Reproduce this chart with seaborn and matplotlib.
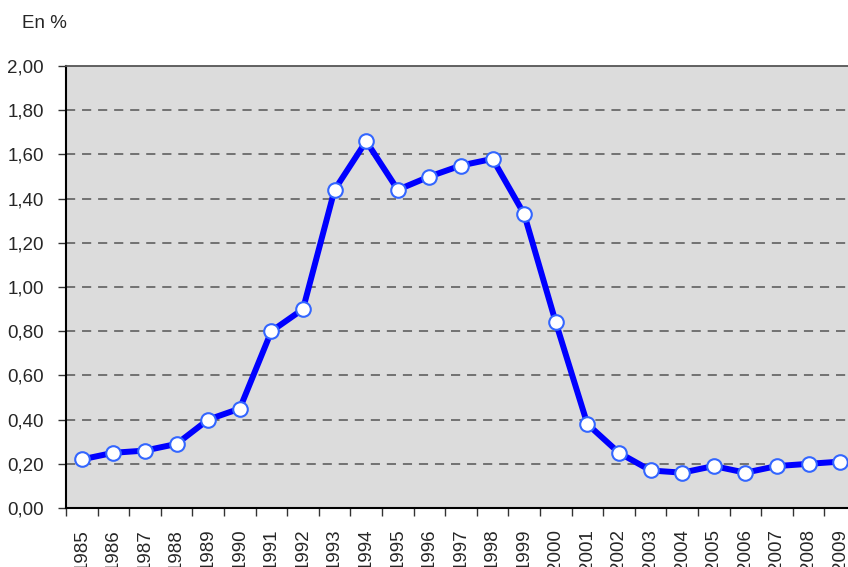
import numpy as np
import pandas as pd
import seaborn as sns
import matplotlib.pyplot as plt
from matplotlib.ticker import FixedLocator, FuncFormatter

# ---------------------- Data ------------------------
years = list(range(1985, 2010))
values = [0.22, 0.25, 0.26, 0.29, 0.40, 0.45, 0.80, 0.90, 1.44, 1.66,
          1.44, 1.50, 1.55, 1.58, 1.33, 0.84, 0.38, 0.25, 0.17, 0.16,
          0.19, 0.16, 0.19, 0.20, 0.21]
yticks = [0.0, 0.2, 0.4, 0.6, 0.8, 1.0, 1.2, 1.4, 1.6, 1.8, 2.0]

df = pd.DataFrame({"pos": np.arange(len(years)), "val": values})

# ---------------------- Style -----------------------
sns.set_style("white")
plt.rcParams["font.family"] = ["Liberation Sans", "DejaVu Sans"]

fig = plt.figure(figsize=(8.48, 5.67), dpi=100)
ax = fig.add_axes([0.0778, 0.104, 0.9316, 0.7795])
ax.set_facecolor("#DCDCDC")

sns.lineplot(data=df, x="pos", y="val", ax=ax, color="#0000FF", linewidth=4.3,
             marker="o", markersize=10.5, markerfacecolor="white",
             markeredgecolor="#3366FF", markeredgewidth=1.5)

ax.set_xlim(-0.5, len(years) - 0.5)
ax.set_ylim(0, 2.0)

# y axis
ax.set_yticks(yticks)
ax.yaxis.set_major_formatter(FuncFormatter(lambda v, p: f"{v:.2f}".replace(".", ",")))
ax.tick_params(axis="y", length=6, width=1, color="#333333", pad=10, labelsize=13.5, direction="out", left=True)
for y in yticks[1:-1]:
    ax.axhline(y, color="#555555", linewidth=1.1, linestyle=(0, (6, 4.5)), zorder=0.5)

# x axis: labels at centers, ticks at boundaries
ax.set_xticks(df["pos"])
ax.set_xticklabels([str(y) for y in years], rotation=90)
ax.tick_params(axis="x", which="major", length=0, pad=15, labelsize=13.5)
ax.xaxis.set_minor_locator(FixedLocator(np.arange(len(years) + 1) - 0.5))
ax.tick_params(axis="x", which="minor", length=6, width=1, color="#333333", direction="out", bottom=True)

ax.set_xlabel("")
ax.set_ylabel("")
for s in ["left", "bottom"]:
    ax.spines[s].set_color("black")
    ax.spines[s].set_linewidth(1.5)
ax.spines["top"].set_color("#555555")
ax.spines["top"].set_linewidth(1.3)
ax.spines["right"].set_visible(False)

fig.text(0.026, 0.958, "En %", fontsize=13.5, va="center", ha="left")

fig.savefig("out.png", dpi=100)
